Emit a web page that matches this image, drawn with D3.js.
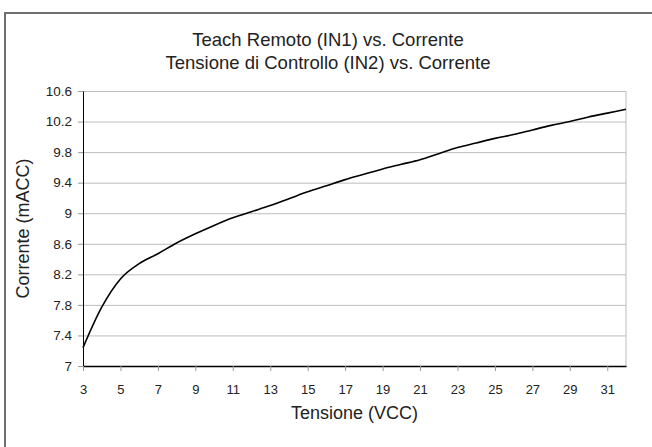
<!DOCTYPE html>
<html>
<head>
<meta charset="utf-8">
<script src="https://cdn.jsdelivr.net/npm/d3@7"></script>
<style>
  body { margin: 0; background: #fff; }
  text { font-family: "Liberation Sans", Arial, Helvetica, sans-serif; fill: #222; }
</style>
</head>
<body>
<div class="chart"></div>
<script>
// Chart data
var titleLines = ["Teach Remoto (IN1) vs. Corrente", "Tensione di Controllo (IN2) vs. Corrente"];
var tensione = [3, 4, 5, 6, 7, 8, 9, 10, 11, 12, 13, 14, 15, 16, 17, 18, 19, 20, 21, 22, 23, 24, 25, 26, 27, 28, 29, 30, 31, 32];
var corrente = [7.24, 7.77, 8.14, 8.34, 8.47, 8.61, 8.73, 8.84, 8.94, 9.02, 9.10, 9.19, 9.28, 9.36, 9.44, 9.51, 9.58, 9.64, 9.70, 9.78, 9.86, 9.92, 9.98, 10.03, 10.09, 10.15, 10.20, 10.26, 10.31, 10.36];
var xTicks = [3, 5, 7, 9, 11, 13, 15, 17, 19, 21, 23, 25, 27, 29, 31];
var yTicks = [7, 7.4, 7.8, 8.2, 8.6, 9, 9.4, 9.8, 10.2, 10.6];

var svgWidth = 652;
var svgHeight = 447;

var margin = { top: 91, right: 26, bottom: 81, left: 83 };
var width = svgWidth - margin.left - margin.right;
var height = svgHeight - margin.top - margin.bottom;

var svg = d3.select(".chart")
    .append("svg")
    .attr("width", svgWidth)
    .attr("height", svgHeight);

// outer frame (only left and top edges show)
svg.append("path")
    .attr("d", "M5," + (svgHeight + 5) + " V13 H" + (svgWidth + 5))
    .attr("fill", "none")
    .attr("stroke", "#707070")
    .attr("stroke-width", 2);

svg.selectAll(".title")
    .data(titleLines)
    .enter()
    .append("text")
    .attr("class", "title")
    .attr("x", 328)
    .attr("y", function(d, i) { return 46 + i * 23; })
    .attr("text-anchor", "middle")
    .attr("font-size", "18.5px")
    .text(function(d) { return d; });

var chart = svg.append("g")
    .attr("transform", "translate(" + margin.left + "," + margin.top + ")");

var xScale = d3.scaleLinear().domain([3, 32]).range([0, width]);
var yScale = d3.scaleLinear().domain([7, 10.6]).range([height, 0]);

// gridlines
chart.append("g")
    .call(d3.axisLeft(yScale).tickValues(yTicks).tickSize(-width).tickFormat(""))
    .call(function(g) {
        g.select(".domain").remove();
        g.selectAll("line").attr("stroke", "#bdbdbd");
    });

// right border of plot
chart.append("line")
    .attr("x1", width).attr("x2", width)
    .attr("y1", 0).attr("y2", height)
    .attr("stroke", "#bdbdbd");

// y axis
var leftAxis = d3.axisLeft(yScale)
    .tickValues(yTicks)
    .tickSize(5)
    .tickSizeOuter(0)
    .tickPadding(6)
    .tickFormat(function(d) { return d3.format("~g")(d); });

chart.append("g")
    .call(leftAxis)
    .call(function(g) {
        g.select(".domain").attr("stroke", "#000");
        g.selectAll(".tick line").attr("stroke", "#999");
        g.selectAll(".tick text").attr("font-size", "13.5px").attr("fill", "#222");
    })
    .attr("font-family", null);

// x axis
var bottomAxis = d3.axisBottom(xScale)
    .tickValues(xTicks)
    .tickSize(5)
    .tickSizeOuter(0)
    .tickPadding(14)
    .tickFormat(d3.format("d"));

chart.append("g")
    .attr("transform", "translate(0," + height + ")")
    .call(bottomAxis)
    .call(function(g) {
        g.select(".domain").attr("stroke", "#000").attr("stroke-width", 1.5);
        g.selectAll(".tick line").attr("stroke", "#999");
        g.selectAll(".tick text").attr("font-size", "13px").attr("fill", "#222");
    })
    .attr("font-family", null);

// the curve
var points = tensione.map(function(t, i) { return [t, corrente[i]]; });
var line = d3.line()
    .x(function(d) { return xScale(d[0]); })
    .y(function(d) { return yScale(d[1]); })
    .curve(d3.curveMonotoneX);

chart.append("path")
    .datum(points)
    .attr("d", line)
    .attr("fill", "none")
    .attr("stroke", "#000")
    .attr("stroke-width", 1.6);

// axis titles
chart.append("text")
    .attr("transform", "rotate(-90)")
    .attr("x", -height / 2)
    .attr("y", -margin.left + 29)
    .attr("text-anchor", "middle")
    .attr("font-size", "18px")
    .text("Corrente (mACC)");

chart.append("text")
    .attr("x", width / 2)
    .attr("y", height + 53)
    .attr("text-anchor", "middle")
    .attr("font-size", "18px")
    .text("Tensione (VCC)");
</script>
</body>
</html>
